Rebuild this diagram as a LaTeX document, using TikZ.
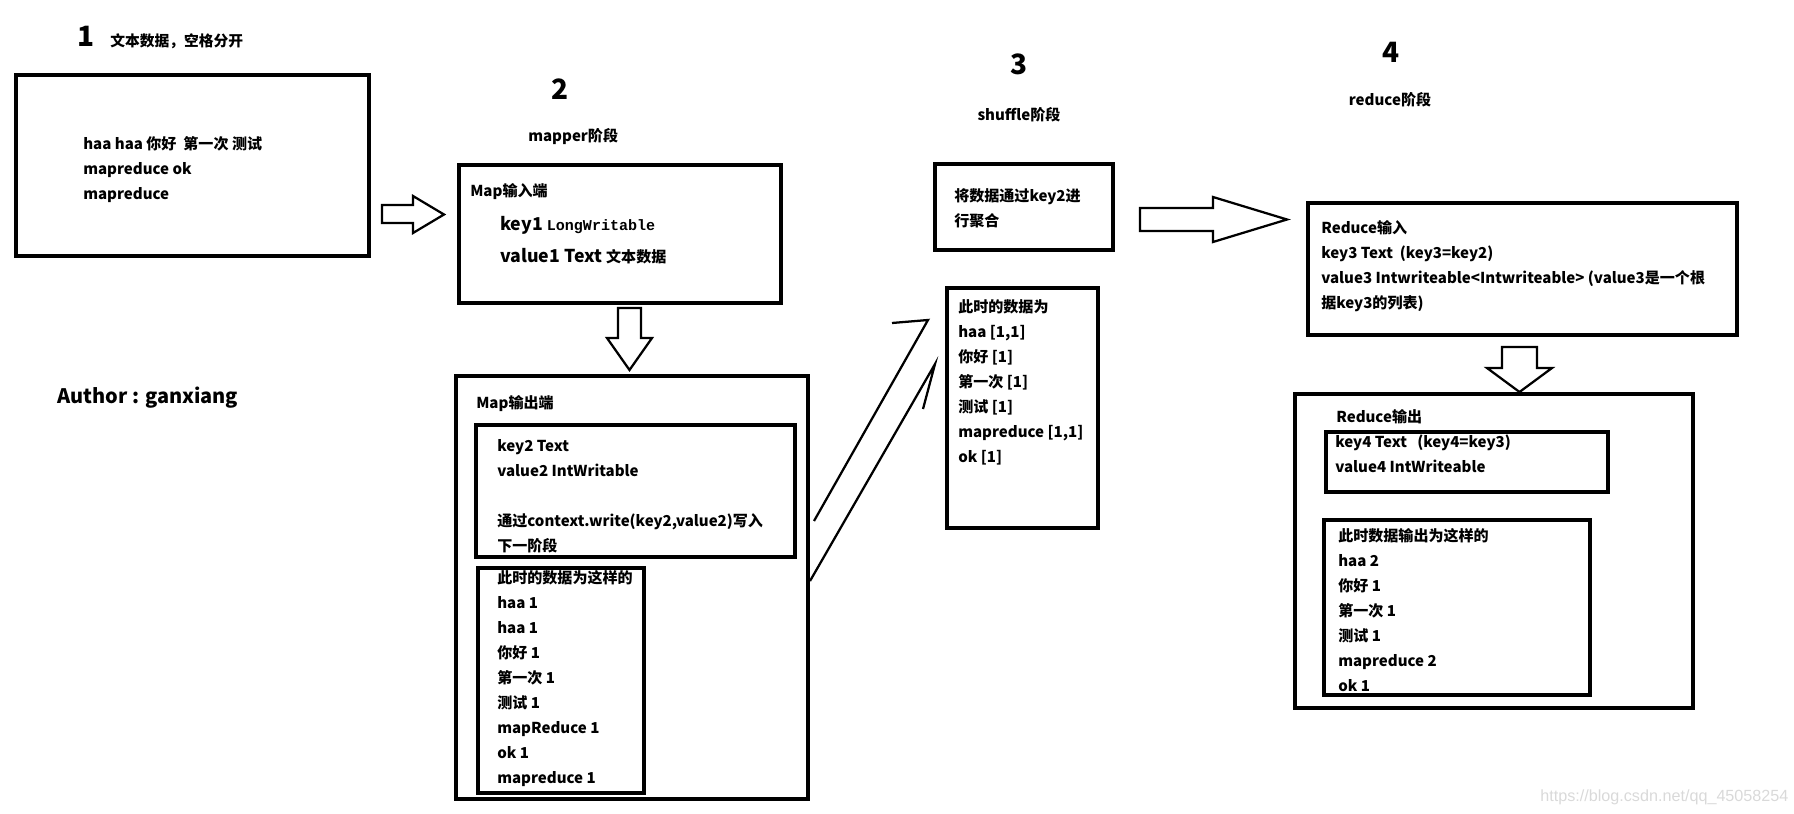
\documentclass[tikz,border=0pt]{standalone}
\usepackage{fontspec}
\setmainfont{Noto Sans CJK SC}
\newfontfamily\monofont{Liberation Mono}
\newfontfamily\wmfont{Liberation Sans}
\usetikzlibrary{fit}

\newcommand{\normaltext}{\bfseries\fontsize{10.7}{17.8}\selectfont}

\tikzset{
  box/.style={draw, line width=2.5pt, inner sep=0pt, outer sep=0pt},
  txt/.style={anchor=north west, align=left, inner sep=0pt, font=\normaltext, execute at begin node=\strut},
  titel/.style={anchor=base, inner sep=0pt, font=\bfseries\fontsize{19.9}{24}\selectfont},
  phase/.style={anchor=base west, inner sep=0pt, font=\normaltext},
  blockpfeil/.style={draw, line width=1.6pt, line join=miter},
  handpfeil/.style={line width=1.6pt}
}

\begin{document}
\begin{tikzpicture}[x=0.025cm, y=-0.025cm]
\useasboundingbox (0,0) rectangle (1794,814);

% Ueberschriften
\node[titel, anchor=base west] (n1) at (77,47) {1};
\node[anchor=base west, inner sep=0pt, font=\bfseries\fontsize{10.5}{12}\selectfont] (n1t) at (110,47) {文本数据，空格分开};
\node[titel] (n2) at (560,100) {2};
\node[phase] (n2t) at (528,142) {mapper阶段};
\node[titel] (n3) at (1019,75) {3};
\node[phase, anchor=base] (n3t) at (1019,121) {shuffle阶段};
\node[titel] (n4) at (1391,63) {4};
\node[phase, anchor=base] (n4t) at (1390,106) {reduce阶段};
\node[anchor=base west, inner sep=0pt, font=\bfseries\fontsize{14.2}{16}\selectfont] (autor) at (57,403) {Author : ganxiang};

% 1 Eingabe
\node[box, fit={(16,75) (369,256)}] (eingabe) {};
\node[txt] (eingabetxt) at (83,136.5) {haa haa 你好\ \ 第一次 测试\\mapreduce ok\\mapreduce};

% 2 Map
\node[box, fit={(459,165) (781,303)}] (mapin) {};
\node[txt] (mapintxt) at (470,178.5) {Map输入端};
\node[txt, font=\bfseries\fontsize{12.6}{22.8}\selectfont] (mapinkv) at (500,216)
  {key1 {\normaltext\monofont LongWritable}\\value1 Text {\normaltext 文本数据}};

\node[box, fit={(456,376) (808,799)}] (mapout) {};
\node[txt] (mapouttxt) at (476,390.5) {Map输出端};
\node[box, fit={(476,425) (795,557)}] (kv2) {};
\node[txt] (kv2txt) at (497,439)
  {key2 Text\\value2 IntWritable\\[17.8pt]通过context.write(key2,value2)写入\\下一阶段};
\node[box, fit={(478,568) (644,793)}] (mapdaten) {};
\node[txt] (mapdatentxt) at (497,570)
  {此时的数据为这样的\\haa 1\\haa 1\\你好 1\\第一次 1\\测试 1\\mapReduce 1\\ok 1\\mapreduce 1};

% 3 Shuffle
\node[box, fit={(935,164) (1113,250)}] (shuffle) {};
\node[txt] (shuffletxt) at (954,188.5) {将数据通过key2进\\行聚合};
\node[box, fit={(947,288) (1098,528)}] (shuffledaten) {};
\node[txt] (shuffledatentxt) at (958,299.5)
  {此时的数据为\\haa [1,1]\\你好 [1]\\第一次 [1]\\测试 [1]\\mapreduce [1,1]\\ok [1]};

% 4 Reduce
\node[box, fit={(1308,203) (1737,335)}] (redin) {};
\node[txt] (redintxt) at (1321,220.5)
  {Reduce输入\\key3 Text\ \ (key3=key2)\\value3 Intwriteable<Intwriteable> (value3是一个根\\据key3的列表)};
\node[box, fit={(1295,394) (1693,708)}] (redout) {};
\node[txt] (redouttxt) at (1336,404.5) {Reduce输出};
\node[box, fit={(1326,432) (1608,492)}] (kv4) {};
\node[txt] (kv4txt) at (1335,435) {key4 Text\ \ \ (key4=key3)\\value4 IntWriteable};
\node[box, fit={(1324,520) (1590,695)}] (reddaten) {};
\node[txt] (reddatentxt) at (1338,528.5)
  {此时数据输出为这样的\\haa 2\\你好 1\\第一次 1\\测试 1\\mapreduce 2\\ok 1};

% Blockpfeile
\draw[blockpfeil] (382,205) -- (413,205) -- (413,196) -- (444,214.5)
  -- (413,233) -- (413,223) -- (382,223) -- cycle;
\draw[blockpfeil] (618,308) -- (618,338) -- (607,338) -- (629.5,370)
  -- (652,338) -- (641,338) -- (641,308) -- cycle;
\draw[blockpfeil] (1140,208) -- (1213,208) -- (1213,197) -- (1287,219.5)
  -- (1213,242) -- (1213,231) -- (1140,231) -- cycle;
\draw[blockpfeil] (1502,347) -- (1502,368) -- (1487,368) -- (1519.5,392)
  -- (1552,368) -- (1537,368) -- (1537,347) -- cycle;

% Map -> Shuffle
\coordinate (s1) at (814,521);
\coordinate (t1) at (928,320);
\coordinate (s2) at (810,581);
\coordinate (t2) at (935,364);
\draw[handpfeil] (s1) -- (t1) -- ++(-36,3);
\draw[handpfeil] (s2) -- (t2) -- ++(-12,45);

% Wasserzeichen
\node[anchor=base west, inner sep=0pt, text=gray!30, font=\wmfont\fontsize{11.5}{13}\selectfont]
  (wm) at (1540,801) {https://blog.csdn.net/qq\_45058254};

\end{tikzpicture}
\end{document}
